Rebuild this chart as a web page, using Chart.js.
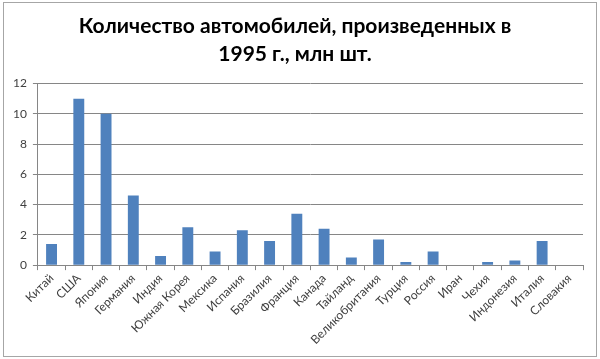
<!DOCTYPE html>
<html><head><meta charset="utf-8">
<script src="https://cdn.jsdelivr.net/npm/chart.js@4"></script>
<style>html,body{margin:0;padding:0;background:#fff}#wrap{width:600px;height:359px}</style>
</head><body><div id="wrap"><canvas id="c" width="600" height="359"></canvas></div>
<script>
const categories = ["Китай","США","Япония","Германия","Индия","Южная Корея","Мексика","Испания","Бразилия","Франция","Канада","Тайланд","Великобритания","Турция","Россия","Иран","Чехия","Индонезия","Италия","Словакия"];
const values = [1.4, 11, 10, 4.6, 0.6, 2.5, 0.9, 2.3, 1.6, 3.4, 2.4, 0.5, 1.7, 0.2, 0.9, 0, 0.2, 0.3, 1.6, 0];
const titleLines = ["Количество автомобилей, произведенных в", "1995 г., млн шт."];
const yTicks = {min: 0, max: 12, step: 2};

const frame = {
  id: 'frame',
  afterDraw(chart) {
    const ctx = chart.ctx;
    ctx.save();
    ctx.strokeStyle = '#a6a6a6';
    ctx.lineWidth = 1;
    ctx.strokeRect(3.5, 2.5, 593, 354);
    ctx.restore();
  }
};

new Chart(document.getElementById('c'), {
  type: 'bar',
  data: { labels: categories, datasets: [{ data: values, backgroundColor: '#4f81bd', borderWidth: 0, barPercentage: 0.4, categoryPercentage: 1 }] },
  options: {
    responsive: false, animation: false,
    layout: { padding: { left: 7, right: 17, top: 13, bottom: 11 } },
    plugins: {
      legend: { display: false }, tooltip: { enabled: false },
      title: { display: true, text: titleLines, color: '#000', font: { family: 'Lato', size: 21, weight: 'bold', lineHeight: 1.3 }, padding: { top: 0, bottom: 16 } }
    },
    scales: {
      x: {
        grid: { display: true, drawOnChartArea: false, drawTicks: true, tickLength: 5, color: '#868686', offset: true },
        border: { color: '#868686' },
        ticks: { color: '#404040', font: { family: 'Lato', size: 12 }, maxRotation: 45, minRotation: 45, autoSkip: false, padding: 1 }
      },
      y: {
        min: yTicks.min, max: yTicks.max,
        grid: { color: '#868686', tickLength: 5 },
        border: { color: '#868686' },
        ticks: { stepSize: yTicks.step, color: '#404040', font: { family: 'Lato', size: 12 }, padding: 6 }
      }
    }
  },
  plugins: [frame]
});
</script></body></html>
